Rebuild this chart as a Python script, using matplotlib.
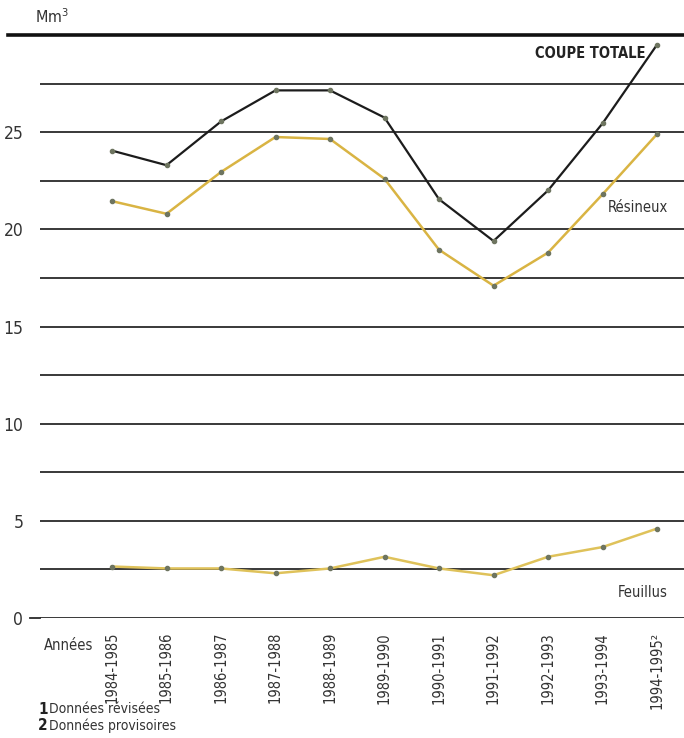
import matplotlib.pyplot as plt

# campagnes
annees = ["1984-1985", "1985-1986", "1986-1987", "1987-1988", "1988-1989",
          "1989-1990", "1990-1991", "1991-1992", "1992-1993", "1993-1994",
          "1994-1995²"]
coupe_totale = [24.05, 23.3, 25.55, 27.15, 27.15, 25.75, 21.55, 19.4, 22.0, 25.45, 29.5]
resineux = [21.45, 20.8, 22.95, 24.75, 24.65, 22.6, 18.95, 17.1, 18.8, 21.8, 24.9]
feuillus = [2.65, 2.55, 2.55, 2.3, 2.55, 3.15, 2.55, 2.2, 3.15, 3.65, 4.6]

plt.rcParams['font.family'] = ['DejaVu Sans']
plt.rcParams['font.stretch'] = 'condensed'

fig = plt.figure(figsize=(6.84, 7.38), dpi=100)
ax = fig.add_axes([40 / 684, 120 / 738, 644 / 684, 583 / 738])

x = list(range(len(annees)))
ax.set_xlim(-1.321, 10.495)
ax.set_ylim(0, 30)

# grille horizontale
for v in [i * 2.5 for i in range(12)]:
    ax.axhline(v, color='#2a2a2a', lw=1.3, zorder=1)
# trait du haut, plus epais et plus long
ax.plot([-1.9, 10.495], [30, 30], color='#111111', lw=2.6, clip_on=False, zorder=1)
ax.plot([-1.5, -1.321], [0, 0], color='#2a2a2a', lw=1.3, clip_on=False, zorder=1)

ax.plot(x, coupe_totale, color='#1c1c1c', lw=1.6, zorder=3)
ax.plot(x, resineux, color='#d9b443', lw=1.8, zorder=3)
ax.plot(x, feuillus, color='#dfc25a', lw=1.8, zorder=3)
for serie in (coupe_totale, resineux, feuillus):
    ax.plot(x, serie, 'o', ms=3, color='#6e7560', zorder=4)

for s in ax.spines.values():
    s.set_visible(False)
ax.tick_params(length=0)
ax.set_yticks([0, 5, 10, 15, 20, 25])
ax.set_yticklabels(['0', '5', '10', '15', '20', '25'], fontsize=12.5, color='#333333')
ax.tick_params(axis='y', pad=12)
ax.set_xticks(x)
ax.set_xticklabels(annees, rotation=90, fontsize=10.5, color='#333333', va='top')
ax.tick_params(axis='x', pad=10)

ax.text(8.78, 29.05, 'COUPE TOTALE', fontsize=10.5, fontweight='bold', color='#222222',
        ha='center', va='center')
ax.text(10.2, 21.1, 'Résineux', fontsize=10.5, color='#333333', ha='right', va='center')
ax.text(10.2, 1.3, 'Feuillus', fontsize=10.5, color='#333333', ha='right', va='center')

fig.text(35 / 684, 1 - 17 / 738, 'Mm$^3$', fontsize=11.5, color='#333333', va='center')
fig.text(44 / 684, 1 - 645 / 738, 'Années', fontsize=10.5, color='#333333', va='center')
fig.text(38 / 684, 1 - 709 / 738, '1', fontsize=11, fontweight='bold', color='#222222', va='center')
fig.text(49 / 684, 1 - 709 / 738, 'Données révisées', fontsize=10, color='#333333', va='center')
fig.text(38 / 684, 1 - 726 / 738, '2', fontsize=11, fontweight='bold', color='#222222', va='center')
fig.text(49 / 684, 1 - 726 / 738, 'Données provisoires', fontsize=10, color='#333333', va='center')

fig.savefig('out.png', dpi=100, facecolor='white')
